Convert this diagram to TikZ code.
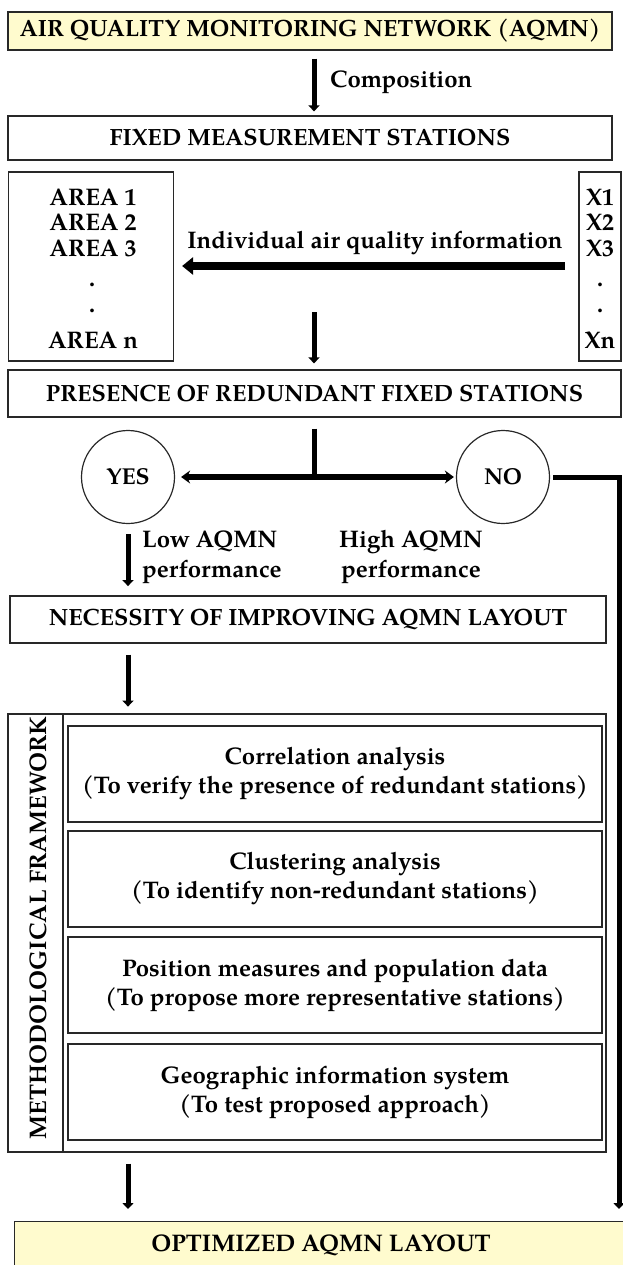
\documentclass[tikz,border=0pt]{standalone}
\usepackage{fontspec}
\setmainfont{TeX Gyre Pagella}
\usetikzlibrary{arrows.meta,calc}
\definecolor{boxyellow}{RGB}{255,251,206}
\definecolor{edge}{RGB}{40,40,40}
\begin{document}
\begin{tikzpicture}[x=1pt,y=-1pt,
  box/.style={draw=edge,line width=1.2pt,inner sep=0pt,align=center,
    font=\bfseries\fontsize{23.5}{28}\selectfont},
  ybox/.style={box,fill=boxyellow},
  ibox/.style={draw=edge,line width=1.6pt,inner sep=0pt,align=center,
    minimum width=534pt,minimum height=96pt,
    font=\bfseries\fontsize{24}{29}\selectfont},
  circ/.style={draw=edge,line width=1.2pt,circle,minimum size=93pt,inner sep=0pt,
    font=\bfseries\fontsize{23}{27}\selectfont},
  txt/.style={inner sep=0pt,font=\bfseries\fontsize{24}{28}\selectfont},
  ltxt/.style={inner sep=0pt,align=left,font=\bfseries\fontsize{24}{30}\selectfont},
  ctxt/.style={inner sep=0pt,align=center,font=\bfseries\fontsize{24}{30}\selectfont},
  darr/.style={line width=5pt,-{Triangle[width=11pt,length=6pt]}},
  harr/.style={line width=8pt,-{Triangle[width=17pt,length=11pt]}},
  yn/.style={line width=5.5pt,{Stealth[width=13pt,length=9pt]}-{Stealth[width=13pt,length=9pt]}},
  route/.style={line width=5pt,line join=miter,-{Triangle[width=11pt,length=6pt]}}
]
\useasboundingbox (0,0) rectangle (623,1265);
\clip (0,0) rectangle (623,1265);

% top and second row
\node[ybox,minimum width=604pt,minimum height=38pt,font=\bfseries\fontsize{23.5}{28}\selectfont] (top) at (310,31) {AIR QUALITY MONITORING NETWORK (AQMN)};
\node[box,minimum width=604pt,minimum height=44pt] (fixed) at (310,138) {FIXED MEASUREMENT STATIONS};
\draw[darr] ([xshift=4pt,yshift=-8pt]top.south) -- ([xshift=4pt,yshift=4pt]fixed.north) coordinate (c1);
\node[txt,anchor=west] (comp) at (330,82) {Composition};

% areas and X
\node[box,minimum width=165pt,minimum height=189pt] (area) at (91,266.5) {};
\node[box,minimum width=42pt,minimum height=189pt] (xs) at (600,266.5) {};
\node[txt] (a1) at (93,197) {AREA 1};
\node[txt] (a2) at (93,222) {AREA 2};
\node[txt] (a3) at (93,248) {AREA 3};
\node[txt] (ad1) at (92,285) {.};
\node[txt] (ad2) at (92,311) {.};
\node[txt] (an) at (93,340) {AREA n};
\node[txt] (x1) at (600,197) {X1};
\node[txt] (x2) at (600,222) {X2};
\node[txt] (x3) at (600,248) {X3};
\node[txt] (xd1) at (600,285) {.};
\node[txt] (xd2) at (600,311) {.};
\node[txt] (xn) at (600,340) {Xn};
\coordinate (hs) at (565,266);
\draw[harr] (hs) -- ([xshift=8pt]area.east |- hs);
\node[txt] (info) at (375,243) {Individual air quality information};

% presence
\node[box,minimum width=613pt,minimum height=47pt] (pres) at (314.5,393.5) {PRESENCE OF REDUNDANT FIXED STATIONS};
\coordinate (c2) at (314,312);
\draw[darr] (c2) -- ([yshift=6pt]pres.north -| c2);

% yes / no
\node[circ] (yes) at (128,477) {YES};
\node[circ] (no) at (503,477) {NO};
\draw[yn,shorten <=6pt,shorten >=2pt] (yes) -- (no);
\coordinate (c3) at (314,477);
\draw[line width=5pt] ([yshift=-11pt]pres.south -| c3) -- (c3);
\coordinate (rc) at (619,477);

\draw[darr] ([yshift=-10pt]yes.south) -- ++(0,52) coordinate (c4);
\node[ltxt,anchor=west] (low) at (142,557) {Low AQMN\\performance};
\node[ctxt] (high) at (411,557) {High AQMN\\performance};

% necessity
\node[box,minimum width=596pt,minimum height=47pt] (nec) at (308,619.5) {NECESSITY OF IMPROVING AQMN LAYOUT};
\draw[darr] ([yshift=-11pt]nec.south -| yes) -- ++(0,52);

% framework
\node[draw=edge,line width=1.2pt,minimum width=598pt,minimum height=438pt,inner sep=0pt] (fw) at (307,933) {};
\node[draw=edge,line width=1.2pt,minimum width=55pt,minimum height=438pt,inner sep=0pt] (lab) at (35.5,933) {};
\node[txt,rotate=90] (labt) at (38,928) {METHODOLOGICAL FRAMEWORK};
\node[ibox] (b1) at (335,774) {Correlation analysis\\(To verify the presence of redundant stations)};
\node[ibox] (b2) at (335,879) {Clustering analysis\\(To identify non-redundant stations)};
\node[ibox] (b3) at (335,985) {Position measures and population data\\(To propose more representative stations)};
\node[ibox] (b4) at (335,1092) {Geographic information system\\(To test proposed approach)};

% bottom
\node[ybox,minimum width=626pt,minimum height=70pt,anchor=north west] (bot) at (14,1221) {};
\node[txt] (bott) at (321,1245) {OPTIMIZED AQMN LAYOUT};
\draw[darr] ([yshift=-11pt]fw.south -| yes) -- ([yshift=12pt]bot.north -| yes);
\draw[route] ([xshift=3pt]no.east) -- (rc) -- ([yshift=12pt]bot.north -| rc);
\end{tikzpicture}
\end{document}
